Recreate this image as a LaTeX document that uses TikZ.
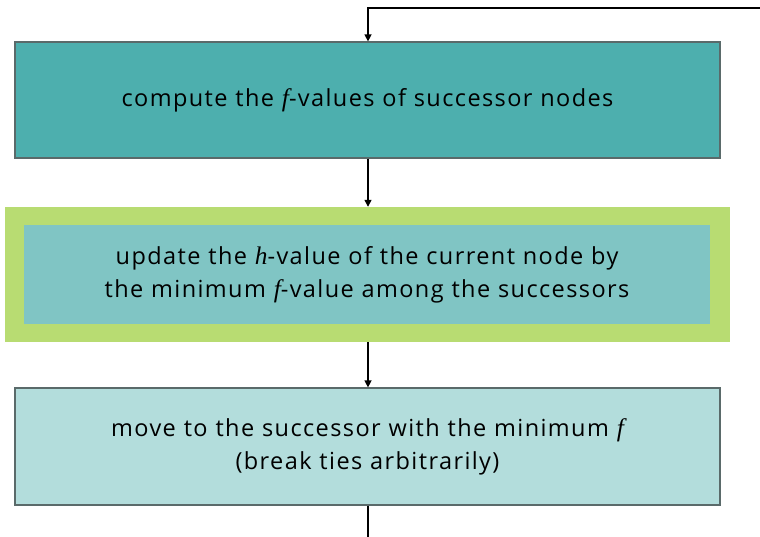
\documentclass[tikz,border=0pt]{standalone}
\usepackage{fontspec}
\setmainfont{Open Sans}[LetterSpace=6, WordSpace=1.3]
\newfontfamily\varfont{Liberation Serif}[Scale=1.08]
\usetikzlibrary{arrows.meta}
\newcommand{\vit}[1]{{\varfont\itshape #1}}
\definecolor{tealA}{HTML}{4DAFAE}
\definecolor{tealB}{HTML}{80C5C4}
\definecolor{tealC}{HTML}{B3DDDC}
\definecolor{lime}{HTML}{B8DC72}
\definecolor{edge}{HTML}{5A6A6A}
\tikzset{
  x=1pt, y=-1pt,
  stepbox/.style={draw=edge, line width=1.2pt, text width=690pt, align=center, inner sep=0pt,
    font=\fontsize{23.5}{33}\selectfont},
  flow/.style={line width=1.3pt, -{Triangle[length=7pt,width=7pt]}},
  plain/.style={line width=1.3pt}
}
\begin{document}
\begin{tikzpicture}
\useasboundingbox (0,0) rectangle (760,537);
% first step
\node[stepbox, fill=tealA, minimum width=705pt, minimum height=116pt] (compute) at (367.5,100)
  {compute the \vit{f}-values of successor nodes};
% highlighted step: green frame with an inner box
\node[fill=lime, minimum width=725pt, minimum height=135pt, inner sep=0pt] (frame) at (367.5,274.5) {};
\node[fill=tealB, minimum width=686pt, minimum height=99pt, inner sep=0pt, text width=680pt, align=center,
  font=\fontsize{23.5}{33}\selectfont] (update) at (367,274.5)
  {update the \vit{h}-value of the current node by\\ the minimum \vit{f}-value among the successors};
% last step
\node[stepbox, fill=tealC, minimum width=705pt, minimum height=117pt] (move) at (367.5,446.5)
  {move to the successor with the minimum \vit{f}\\ (break ties arbitrarily)};
% loop-back entry and connectors
\coordinate (enter) at (760,8);
\coordinate (leave) at (368,537);
\draw[flow] (enter) -| (compute.north -| 368,0);
\draw[flow] (compute.south -| 368,0) -- (frame.north -| 368,0);
\draw[flow] (frame.south -| 368,0) -- (move.north -| 368,0);
\draw[plain] (move.south -| 368,0) -- (leave);
\end{tikzpicture}
\end{document}
